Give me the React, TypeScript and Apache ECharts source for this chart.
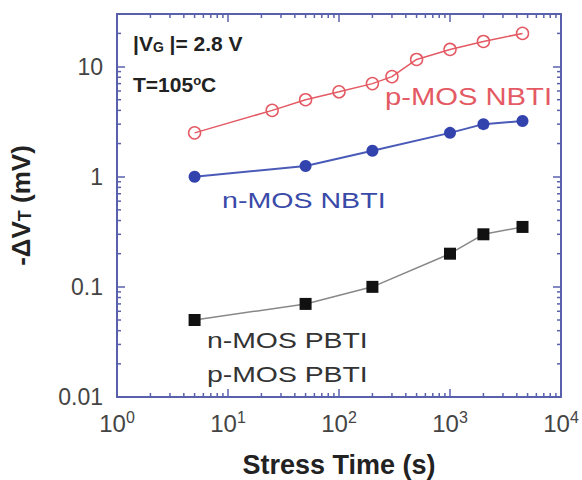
import React, { useEffect, useRef } from 'react';
import * as echarts from 'echarts';

const pNbtiTime = [5, 25, 50, 100, 200, 300, 500, 1000, 2000, 4500];
const pNbtiShift = [2.5, 4.0, 5.0, 5.9, 7.0, 8.1, 11.6, 14.3, 16.9, 20];
const nNbtiTime = [5, 50, 200, 1000, 2000, 4500];
const nNbtiShift = [1.0, 1.25, 1.72, 2.5, 3.0, 3.2];
const pbtiTime = [5, 50, 200, 1000, 2000, 4500];
const pbtiShift = [0.05, 0.07, 0.1, 0.2, 0.3, 0.35];

const xMinorTicks = [
  2, 3, 4, 5, 6, 7, 8, 9,
  20, 30, 40, 50, 60, 70, 80, 90,
  200, 300, 400, 500, 600, 700, 800, 900,
  2000, 3000, 4000, 5000, 6000, 7000, 8000, 9000,
];
const yMinorTicks = [
  0.02, 0.03, 0.04, 0.05, 0.06, 0.07, 0.08, 0.09,
  0.2, 0.3, 0.4, 0.5, 0.6, 0.7, 0.8, 0.9,
  2, 3, 4, 5, 6, 7, 8, 9,
  20,
];

const AXIS = '#5961ad';
const RED = '#e45a64';
const BLUE = '#3343ad';
const FONT = 'Liberation Sans, Arial, Helvetica, sans-serif';

function isDecade(v: number) {
  const l = Math.log10(v);
  return Math.abs(l - Math.round(l)) < 1e-6;
}

export default function App() {
  const ref = useRef<HTMLDivElement>(null);
  useEffect(() => {
    if (!ref.current) return;
    const chart = echarts.init(ref.current, null, { renderer: 'svg' });
    const tickStyle = { color: AXIS, width: 1.5 };
    const minorX = (params: any, api: any) => {
      const cs = params.coordSys;
      const px = api.coord([api.value(0), 1])[0];
      const bottom = cs.y + cs.height;
      const top = cs.y;
      return {
        type: 'group',
        children: [
          { type: 'line', shape: { x1: px, y1: bottom, x2: px, y2: bottom - 4 }, style: { stroke: AXIS, lineWidth: 1.5 } },
          { type: 'line', shape: { x1: px, y1: top, x2: px, y2: top + 4 }, style: { stroke: AXIS, lineWidth: 1.5 } },
        ],
      };
    };
    const minorY = (params: any, api: any) => {
      const cs = params.coordSys;
      const py = api.coord([1, api.value(1)])[1];
      const left = cs.x;
      const right = cs.x + cs.width;
      return {
        type: 'group',
        children: [
          { type: 'line', shape: { x1: left, y1: py, x2: left + 4, y2: py }, style: { stroke: AXIS, lineWidth: 1.5 } },
          { type: 'line', shape: { x1: right, y1: py, x2: right - 4, y2: py }, style: { stroke: AXIS, lineWidth: 1.5 } },
        ],
      };
    };
    const option: any = {
      animation: false,
      backgroundColor: '#ffffff',
      grid: { left: 117, right: 21, top: 14, bottom: 83, containLabel: false, outerBoundsMode: 'none' },
      xAxis: [
        {
          type: 'log',
          logBase: 10,
          min: 1,
          max: 10000,
          position: 'bottom',
          axisLine: { show: true, lineStyle: { color: AXIS, width: 2 } },
          axisTick: { show: true, inside: true, length: 8, lineStyle: tickStyle },
          splitLine: { show: false },
          axisLabel: {
            margin: 12,
            fontSize: 23,
            color: '#444',
            fontFamily: FONT,
            formatter: (v: number) => (isDecade(v) ? `{base|10}{sup|${Math.round(Math.log10(v))}}` : ''),
            rich: {
              base: { fontSize: 24, color: '#444', fontFamily: FONT, lineHeight: 28 },
              sup: { fontSize: 16, color: '#444', fontFamily: FONT, verticalAlign: 'top', lineHeight: 16 },
            },
          },
          name: 'Stress Time (s)',
          nameLocation: 'middle',
          nameGap: 54,
          nameTextStyle: { fontSize: 27, fontWeight: 'bold', color: '#222', fontFamily: FONT },
        },
        {
          type: 'log',
          logBase: 10,
          min: 1,
          max: 10000,
          position: 'top',
          axisLine: { show: true, lineStyle: { color: AXIS, width: 2 } },
          axisTick: { show: true, inside: true, length: 8, lineStyle: tickStyle },
          splitLine: { show: false },
          axisLabel: { show: false },
        },
      ],
      yAxis: [
        {
          type: 'log',
          logBase: 10,
          min: 0.01,
          max: 30,
          position: 'left',
          axisLine: { show: true, lineStyle: { color: AXIS, width: 2 } },
          axisTick: { show: true, inside: true, length: 8, lineStyle: tickStyle },
          splitLine: { show: false },
          axisLabel: {
            margin: 14,
            fontSize: 23,
            color: '#444',
            fontFamily: FONT,
            formatter: (v: number) => {
              if (!isDecade(v)) return '';
              const e = Math.round(Math.log10(v));
              return e >= 0 ? String(Math.pow(10, e)) : Math.pow(10, e).toFixed(-e);
            },
          },
          name: '{a|-ΔV}{t|T}{a| (mV)}',
          nameLocation: 'middle',
          nameRotate: 90,
          nameGap: 83,
          nameTextStyle: {
            rich: {
              a: { fontSize: 26, fontWeight: 'bold', color: '#222', fontFamily: FONT },
              t: { fontSize: 18, fontWeight: 'bold', color: '#222', fontFamily: FONT, verticalAlign: 'bottom' },
            },
          },
        },
        {
          type: 'log',
          logBase: 10,
          min: 0.01,
          max: 30,
          position: 'right',
          axisLine: { show: true, lineStyle: { color: AXIS, width: 2 } },
          axisTick: { show: true, inside: true, length: 8, lineStyle: tickStyle },
          splitLine: { show: false },
          axisLabel: { show: false },
        },
      ],
      series: [
        {
          type: 'custom',
          silent: true,
          xAxisIndex: 0,
          yAxisIndex: 0,
          data: xMinorTicks.map((v) => [v, 1]),
          renderItem: minorX,
          z: 5,
        },
        {
          type: 'custom',
          silent: true,
          xAxisIndex: 0,
          yAxisIndex: 0,
          data: yMinorTicks.map((v) => [1, v]),
          renderItem: minorY,
          z: 5,
        },
        {
          name: 'n-MOS PBTI / p-MOS PBTI',
          type: 'line',
          data: pbtiTime.map((t, i) => [t, pbtiShift[i]]),
          symbol: 'rect',
          symbolSize: 12,
          itemStyle: { color: '#111' },
          lineStyle: { color: '#888', width: 1.5 },
          z: 3,
        },
        {
          name: 'n-MOS NBTI',
          type: 'line',
          data: nNbtiTime.map((t, i) => [t, nNbtiShift[i]]),
          symbol: 'circle',
          symbolSize: 12,
          itemStyle: { color: BLUE },
          lineStyle: { color: '#4a5ab8', width: 2 },
          z: 3,
        },
        {
          name: 'p-MOS NBTI',
          type: 'line',
          data: pNbtiTime.map((t, i) => [t, pNbtiShift[i]]),
          symbol: 'circle',
          symbolSize: 12,
          showAllSymbol: true,
          itemStyle: { color: 'rgba(255,255,255,0)', borderColor: RED, borderWidth: 1.5 },
          lineStyle: { color: RED, width: 1.5 },
          z: 3,
        },
      ],
      graphic: [
        {
          type: 'text',
          x: 133,
          y: 43,
          style: {
            text: '{a|\u007cV}{s|G}{a| \u007c= 2.8 V}',
            verticalAlign: 'middle',
            rich: {
              a: { fontSize: 21, fontWeight: 'bold', fill: '#222', fontFamily: FONT },
              s: { fontSize: 14, fontWeight: 'bold', fill: '#222', fontFamily: FONT, verticalAlign: 'bottom' },
            },
          },
        },
        {
          type: 'text',
          x: 133,
          y: 84,
          style: {
            text: '{a|T=105}{o|o}{a|C}',
            verticalAlign: 'middle',
            rich: {
              a: { fontSize: 21, fontWeight: 'bold', fill: '#222', fontFamily: FONT },
              o: { fontSize: 13, fontWeight: 'bold', fill: '#222', fontFamily: FONT, verticalAlign: 'top' },
            },
          },
        },
        {
          type: 'text',
          x: 385,
          y: 97,
          scaleX: 1.27,
          style: { text: 'p-MOS NBTI', fontSize: 23, fill: RED, fontFamily: FONT, verticalAlign: 'middle' },
        },
        {
          type: 'text',
          x: 222,
          y: 200,
          scaleX: 1.3,
          style: { text: 'n-MOS NBTI', fontSize: 22, fill: '#3a4aa8', fontFamily: FONT, verticalAlign: 'middle' },
        },
        {
          type: 'text',
          x: 207,
          y: 340,
          scaleX: 1.29,
          style: { text: 'n-MOS PBTI', fontSize: 22, fill: '#333', fontFamily: FONT, verticalAlign: 'middle' },
        },
        {
          type: 'text',
          x: 207,
          y: 374,
          scaleX: 1.29,
          style: { text: 'p-MOS PBTI', fontSize: 22, fill: '#333', fontFamily: FONT, verticalAlign: 'middle' },
        },
      ],
    };
    chart.setOption(option);
    return () => chart.dispose();
  }, []);
  return <div ref={ref} style={{ position: 'fixed', left: 0, top: 0, width: 582, height: 480, background: '#fff' }} />;
}
